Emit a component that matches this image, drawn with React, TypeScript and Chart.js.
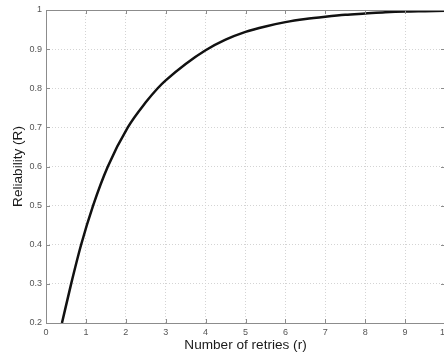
import React, { useEffect, useRef } from "react";
import { Chart, registerables } from "chart.js";

Chart.register(...registerables);

const retries = [0.4, 0.63, 0.88, 1.18, 1.55, 2.05, 2.5, 2.8, 3, 3.5, 4, 4.5, 5, 5.5, 6, 6.5, 7, 7.5, 8, 8.5, 9, 9.5, 10];
const reliability = [0.2, 0.3, 0.4, 0.5, 0.6, 0.7, 0.764, 0.8, 0.82, 0.862, 0.897, 0.924, 0.944, 0.958, 0.969, 0.977, 0.983, 0.988, 0.991, 0.994, 0.996, 0.997, 0.998];
const xTicks = [0, 1, 2, 3, 4, 5, 6, 7, 8, 9, 10];
const yTicks = [0.2, 0.3, 0.4, 0.5, 0.6, 0.7, 0.8, 0.9, 1];

const xTitle = "Number of retries (r)";
const yTitle = "Reliability (R)";

const boxPlugin = {
  id: "matlabBox",
  afterDatasetsDraw(chart: any) {
    const { ctx, chartArea, scales } = chart;
    const { left, right, top, bottom } = chartArea;
    ctx.save();
    ctx.strokeStyle = "#8c8c8c";
    ctx.lineWidth = 1;
    ctx.setLineDash([]);
    ctx.strokeRect(left + 0.5, top + 0.5, right - left, bottom - top);
    const t = 4;
    ctx.beginPath();
    xTicks.forEach((v) => {
      const px = Math.round(scales.x.getPixelForValue(v)) + 0.5;
      ctx.moveTo(px, bottom);
      ctx.lineTo(px, bottom - t);
      ctx.moveTo(px, top);
      ctx.lineTo(px, top + t);
    });
    yTicks.forEach((v) => {
      const py = Math.round(scales.y.getPixelForValue(v)) + 0.5;
      ctx.moveTo(left, py);
      ctx.lineTo(left + t, py);
      ctx.moveTo(right, py);
      ctx.lineTo(right - t, py);
    });
    ctx.stroke();
    ctx.restore();
  },
};

export default function App() {
  const ref = useRef<HTMLCanvasElement | null>(null);
  useEffect(() => {
    document.body.style.margin = "0";
    const canvas = ref.current!;
    const chart = new Chart(canvas, {
      type: "line",
      data: {
        datasets: [
          {
            data: retries.map((r, i) => ({ x: r, y: reliability[i] })),
            borderColor: "#111111",
            borderWidth: 2.5,
            pointRadius: 0,
            fill: false,
            cubicInterpolationMode: "monotone",
          },
        ],
      },
      options: {
        animation: false,
        responsive: false,
        events: [],
        layout: { padding: { top: 10, right: 11, left: 0, bottom: 0 } },
        plugins: { legend: { display: false }, tooltip: { enabled: false } },
        scales: {
          x: {
            type: "linear",
            min: 0,
            max: 10,
            afterBuildTicks: (s: any) => {
              s.ticks = xTicks.map((v) => ({ value: v }));
            },
            afterFit: (s: any) => {
              s.height = 33;
            },
            grid: { color: "#d4d4d4", drawTicks: false },
            border: { display: false, dash: [1, 2] },
            ticks: {
              padding: 4,
              color: "#555555",
              font: { family: "Liberation Sans, Arial, sans-serif", size: 9 },
              maxRotation: 0,
              callback: (v: any) => String(v),
            },
            title: {
              display: true,
              text: xTitle,
              color: "#1a1a1a",
              font: { family: "Liberation Sans, Arial, sans-serif", size: 13.6 },
              padding: { top: 0, bottom: 3 },
            },
          },
          y: {
            type: "linear",
            min: 0.2,
            max: 1,
            afterBuildTicks: (s: any) => {
              s.ticks = yTicks.map((v) => ({ value: v }));
            },
            afterFit: (s: any) => {
              s.width = 46;
            },
            grid: { color: "#d4d4d4", drawTicks: false },
            border: { display: false, dash: [1, 2] },
            ticks: {
              padding: 4,
              color: "#555555",
              font: { family: "Liberation Sans, Arial, sans-serif", size: 9 },
              callback: (v: any) => String(Math.round(Number(v) * 10) / 10),
            },
            title: {
              display: true,
              text: yTitle,
              color: "#1a1a1a",
              font: { family: "Liberation Sans, Arial, sans-serif", size: 13.6 },
              padding: { top: 10, bottom: 0 },
            },
          },
        },
      },
      plugins: [boxPlugin],
    } as any);
    return () => chart.destroy();
  }, []);
  return (
    <div style={{ position: "fixed", left: 0, top: 0, width: 444, height: 356, overflow: "hidden", background: "#fff" }}>
      <canvas ref={ref} width={456} height={356} style={{ width: 456, height: 356, display: "block" }} />
    </div>
  );
}
